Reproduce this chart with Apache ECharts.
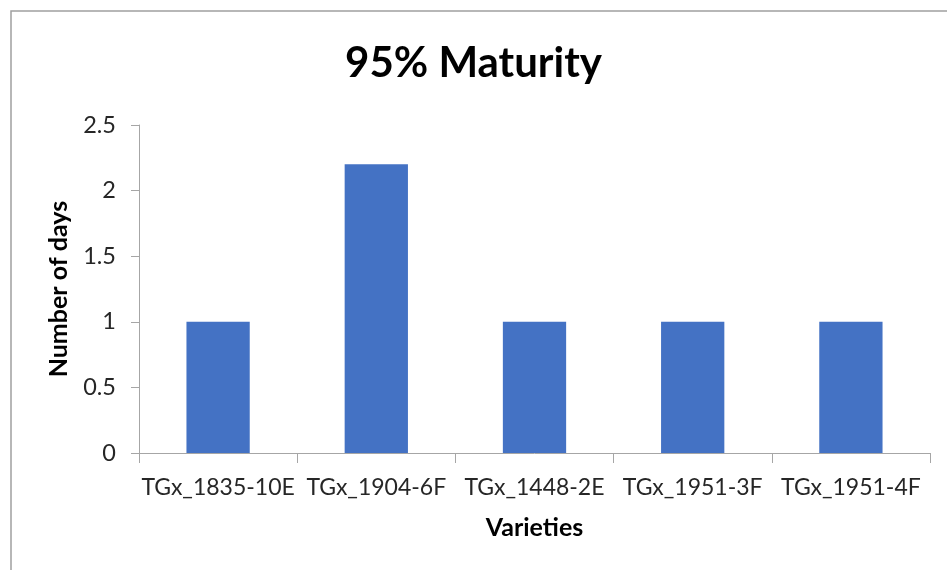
<!DOCTYPE html>
<html><head><meta charset="utf-8">
<script src="https://cdn.jsdelivr.net/npm/echarts@6/dist/echarts.min.js"></script>
<style>html,body{margin:0;padding:0;background:#fff}#c{width:947px;height:570px}</style>
</head><body><div id="c"></div>
<script>
const categories = ['TGx_1835-10E','TGx_1904-6F','TGx_1448-2E','TGx_1951-3F','TGx_1951-4F'];
const days = [1, 2.2, 1, 1, 1];
const yTicks = [0, 0.5, 1, 1.5, 2, 2.5];

const FONT = 'Lato';
const chart = echarts.init(document.getElementById('c'), null, {renderer:'canvas'});
chart.setOption({
  animation: false,
  backgroundColor: '#fff',
  title: {
    text: '95% Maturity', left: 'center', top: 37,
    textStyle: {fontFamily: FONT, fontSize: 42, fontWeight: 'bold', color: '#000'}
  },
  graphic: [{
    type: 'rect', shape: {x: 11, y: 11, width: 980, height: 620},
    style: {fill: 'none', stroke: '#a0a0a0', lineWidth: 1.5}, silent: true
  }],
  grid: {left: 139, right: 17, top: 125, bottom: 117, containLabel: false},
  xAxis: {
    type: 'category', data: categories,
    name: 'Varieties', nameLocation: 'middle', nameGap: 62,
    nameTextStyle: {fontFamily: FONT, fontSize: 25, fontWeight: 'bold', color: '#000'},
    axisLine: {lineStyle: {color: '#a6a6a6', width: 1}},
    axisTick: {show: true, length: 10, lineStyle: {color: '#a6a6a6'}},
    axisLabel: {fontFamily: FONT, fontSize: 23, color: '#262626', margin: 23, interval: 0}
  },
  yAxis: {
    type: 'value', min: yTicks[0], max: yTicks[yTicks.length-1], interval: 0.5,
    name: 'Number of days', nameLocation: 'middle', nameGap: 68, nameRotate: 90,
    nameTextStyle: {fontFamily: FONT, fontSize: 25, fontWeight: 'bold', color: '#000'},
    axisLine: {show: true, lineStyle: {color: '#a6a6a6', width: 1}},
    axisTick: {show: true, inside: false, length: 8, lineStyle: {color: '#a6a6a6'}},
    splitLine: {show: false},
    axisLabel: {fontFamily: FONT, fontSize: 23.5, color: '#262626', margin: 23}
  },
  series: [{
    type: 'bar', data: days, barWidth: '40%',
    itemStyle: {color: '#4472c4'}
  }]
});
</script></body></html>
